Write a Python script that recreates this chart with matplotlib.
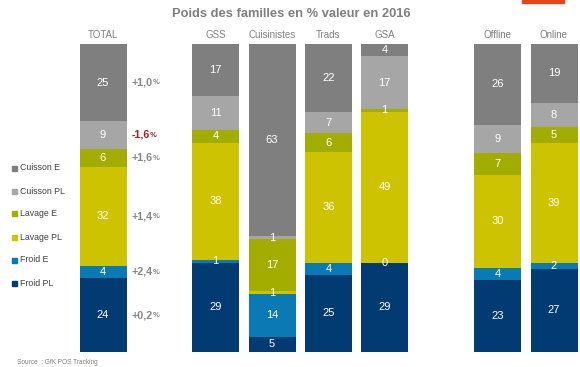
import matplotlib
matplotlib.use("Agg")
import matplotlib.pyplot as plt
import numpy as np
from matplotlib.patches import Rectangle

plt.rcParams['font.family'] = ['Liberation Sans', 'DejaVu Sans']

# ---- data ----
categories = ["TOTAL", "GSS", "Cuisinistes", "Trads", "GSA", "Offline", "Online"]
families = ["Froid PL", "Froid E", "Lavage PL", "Lavage E", "Cuisson PL", "Cuisson E"]
froid_pl   = [24, 29, 5, 25, 29, 23, 27]
froid_e    = [4, 1, 14, 4, 0, 4, 2]
lavage_pl  = [32, 38, 1, 36, 49, 30, 39]
lavage_e   = [6, 4, 17, 6, 1, 7, 5]
cuisson_pl = [9, 11, 1, 7, 17, 9, 8]
cuisson_e  = [25, 17, 63, 22, 4, 26, 19]
total_delta = ["+0,2", "+2,4", "+1,4", "+1,6", "-1,6", "+1,0"]  # same order as families
title = "Poids des familles en % valeur en 2016"
source = "Source  : GfK POS Tracking"

# ---- style / layout ----
colors = ["#023a72", "#0a7ab4", "#cdc300", "#a3ad00", "#a6a6a6", "#7f7f7f"]
xpos = [103, 215.5, 272, 328.5, 384.5, 497.5, 554]
width = 47
W, H = 580, 367

fig = plt.figure(figsize=(W / 100, H / 100), dpi=100)
ax = fig.add_axes([0, (H - 352) / H, 1, (352 - 44) / H])
ax.set_xlim(0, W)
ax.set_ylim(0, 100)
ax.axis('off')

series = np.array([froid_pl, froid_e, lavage_pl, lavage_e, cuisson_pl, cuisson_e], dtype=float)
sums = series.sum(axis=0)
norm = series / sums * 100

bottom = np.zeros(len(categories))
for i, fam in enumerate(families):
    ax.bar(xpos, norm[i], width=width, bottom=bottom, color=colors[i], linewidth=0)
    for j in range(len(categories)):
        ax.text(xpos[j], bottom[j] + norm[i][j] / 2, f"{int(series[i][j])}",
                ha='center', va='center', color='white', fontsize=8)
    # deltas next to TOTAL
    d = total_delta[i]
    neg = d.startswith('-')
    col = "#9e1b2f" if neg else "#858585"
    t = ax.text(xpos[0] + width / 2 + 5, bottom[0] + norm[i][0] / 2, d,
                ha='left', va='center', color=col, fontsize=7.7,
                fontweight='bold')
    ax.annotate("%", xy=(1, 0.12), xycoords=t, ha='left', va='bottom',
                color=col, fontsize=5.5, fontweight='bold')
    bottom += norm[i]

for j, c in enumerate(categories):
    ax.annotate(c, xy=(xpos[j], 100), xytext=(0, 6.5), textcoords='offset points',
                ha='center', va='center', color='#7f7f7f', fontsize=7)

fig.text(291 / W, 1 - 14 / H, title, ha='center', va='center',
         color='#7f7f7f', fontsize=9.3, fontweight='bold')

# legend (top to bottom: Cuisson E ... Froid PL)
for k, i in enumerate(range(len(families) - 1, -1, -1)):
    y = 1 - (168 + 23 * k) / H
    fig.patches.append(Rectangle((12 / W, y - 2.5 / H), 5 / W, 5 / H,
                                 transform=fig.transFigure, color=colors[i]))
    fig.text(19.5 / W, y, families[i], ha='left', va='center', color='#404040', fontsize=6.3)

fig.text(17 / W, 1 - 362 / H, source, ha='left', va='center', color='#808080', fontsize=4.7)

fig.patches.append(Rectangle((522 / W, 1 - 3 / H), 42 / W, 3 / H,
                             transform=fig.transFigure, color='#e8431c'))

fig.savefig("out.png", dpi=100)
